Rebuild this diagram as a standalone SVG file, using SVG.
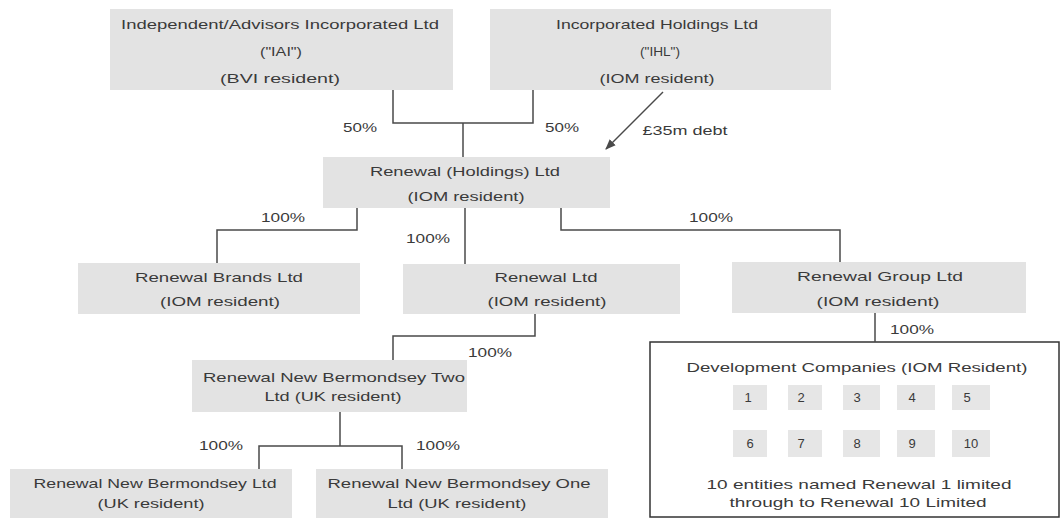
<svg xmlns="http://www.w3.org/2000/svg" width="1062" height="518" viewBox="0 0 1062 518">
<defs>
<style>
.box{fill:#e3e3e3;}
.sq{fill:#e6e6e6;}
text{font-family:"Liberation Sans",Arial,sans-serif;font-size:13px;fill:#3a3a3a;text-anchor:middle;}
.ln{fill:none;stroke:#4a4a4a;stroke-width:1.5;}
</style>
<marker id="ah" viewBox="0 0 10 10" refX="9" refY="5" markerWidth="7" markerHeight="7" orient="auto">
<path d="M0,1 L10,5 L0,9 z" fill="#4a4a4a"/>
</marker>
</defs>
<rect width="1062" height="518" fill="#ffffff"/>

<g id="iai">
<rect class="box" x="110" y="9" width="343" height="81"/>
<text x="280" y="29" textLength="318" lengthAdjust="spacingAndGlyphs">Independent/Advisors Incorporated Ltd</text>
<text x="281" y="56" textLength="42" lengthAdjust="spacingAndGlyphs">(&quot;IAI&quot;)</text>
<text x="280" y="83" textLength="120" lengthAdjust="spacingAndGlyphs">(BVI resident)</text>
</g>

<g id="ihl">
<rect class="box" x="490" y="9" width="341" height="81"/>
<text x="657" y="29" textLength="202" lengthAdjust="spacingAndGlyphs">Incorporated Holdings Ltd</text>
<text x="660" y="56" textLength="40" lengthAdjust="spacingAndGlyphs">(&quot;IHL&quot;)</text>
<text x="657" y="83" textLength="115" lengthAdjust="spacingAndGlyphs">(IOM resident)</text>
</g>

<g id="holdings">
<rect class="box" x="323" y="157" width="287" height="51"/>
<text x="465" y="176" textLength="190" lengthAdjust="spacingAndGlyphs">Renewal (Holdings) Ltd</text>
<text x="466" y="201" textLength="117" lengthAdjust="spacingAndGlyphs">(IOM resident)</text>
</g>

<g id="brands">
<rect class="box" x="78" y="263" width="282" height="51"/>
<text x="219" y="282" textLength="168" lengthAdjust="spacingAndGlyphs">Renewal Brands Ltd</text>
<text x="220" y="306" textLength="120" lengthAdjust="spacingAndGlyphs">(IOM resident)</text>
</g>

<g id="renewal-ltd">
<rect class="box" x="403" y="264" width="277" height="50"/>
<text x="546" y="282" textLength="103" lengthAdjust="spacingAndGlyphs">Renewal Ltd</text>
<text x="547" y="306" textLength="119" lengthAdjust="spacingAndGlyphs">(IOM resident)</text>
</g>

<g id="group">
<rect class="box" x="732" y="262" width="294" height="51"/>
<text x="880" y="281" textLength="166" lengthAdjust="spacingAndGlyphs">Renewal Group Ltd</text>
<text x="878" y="306" textLength="123" lengthAdjust="spacingAndGlyphs">(IOM resident)</text>
</g>

<g id="bermondsey-two">
<rect class="box" x="192" y="360" width="275" height="52"/>
<text x="334" y="382" textLength="262" lengthAdjust="spacingAndGlyphs">Renewal New Bermondsey Two</text>
<text x="333" y="401" textLength="137" lengthAdjust="spacingAndGlyphs">Ltd (UK resident)</text>
</g>

<g id="bermondsey">
<rect class="box" x="10" y="469" width="282" height="49"/>
<text x="155" y="488" textLength="243" lengthAdjust="spacingAndGlyphs">Renewal New Bermondsey Ltd</text>
<text x="151" y="508" textLength="107" lengthAdjust="spacingAndGlyphs">(UK resident)</text>
</g>

<g id="bermondsey-one">
<rect class="box" x="316" y="469" width="292" height="49"/>
<text x="459" y="488" textLength="263" lengthAdjust="spacingAndGlyphs">Renewal New Bermondsey One</text>
<text x="457" y="508" textLength="139" lengthAdjust="spacingAndGlyphs">Ltd (UK resident)</text>
</g>

<g id="development">
<rect x="650" y="342" width="409" height="175" fill="#ffffff" stroke="#333333" stroke-width="1.5"/>
<text x="857" y="372" textLength="341" lengthAdjust="spacingAndGlyphs">Development Companies (IOM Resident)</text>
<rect class="sq" x="733" y="385" width="34" height="25"/>
<rect class="sq" x="788" y="385" width="34" height="25"/>
<rect class="sq" x="843" y="385" width="37" height="25"/>
<rect class="sq" x="897" y="385" width="38" height="25"/>
<rect class="sq" x="952" y="385" width="38" height="25"/>
<rect class="sq" x="733" y="430" width="34" height="27"/>
<rect class="sq" x="788" y="430" width="34" height="27"/>
<rect class="sq" x="843" y="430" width="37" height="27"/>
<rect class="sq" x="897" y="430" width="38" height="27"/>
<rect class="sq" x="952" y="430" width="38" height="27"/>
<text x="748" y="402">1</text>
<text x="801" y="402">2</text>
<text x="857" y="402">3</text>
<text x="912" y="402">4</text>
<text x="967" y="402">5</text>
<text x="750" y="448">6</text>
<text x="801" y="448">7</text>
<text x="857" y="448">8</text>
<text x="912" y="448">9</text>
<text x="971" y="448">10</text>
<text x="859" y="489" textLength="305" lengthAdjust="spacingAndGlyphs">10 entities named Renewal 1 limited</text>
<text x="858" y="507" textLength="257" lengthAdjust="spacingAndGlyphs">through to Renewal 10 Limited</text>
</g>

<g id="connectors">
<polyline class="ln" points="393,90 393,123 533,123 533,90"/>
<line class="ln" x1="463" y1="123" x2="463" y2="157"/>
<line class="ln" x1="663" y1="92" x2="606" y2="149" marker-end="url(#ah)"/>
<polyline class="ln" points="357,208 357,230 217,230 217,263"/>
<line class="ln" x1="465" y1="208" x2="465" y2="264"/>
<polyline class="ln" points="561,208 561,230 840,230 840,262"/>
<line class="ln" x1="875" y1="313" x2="875" y2="342"/>
<polyline class="ln" points="535,314 535,336 393,336 393,360"/>
<line class="ln" x1="340" y1="412" x2="340" y2="446"/>
<polyline class="ln" points="259,469 259,446 402,446 402,469"/>
</g>

<g id="labels">
<text x="360" y="132" textLength="34" lengthAdjust="spacingAndGlyphs">50%</text>
<text x="562" y="132" textLength="34" lengthAdjust="spacingAndGlyphs">50%</text>
<text x="685" y="135" textLength="85" lengthAdjust="spacingAndGlyphs">£35m debt</text>
<text x="283" y="222" textLength="44" lengthAdjust="spacingAndGlyphs">100%</text>
<text x="428" y="243" textLength="44" lengthAdjust="spacingAndGlyphs">100%</text>
<text x="711" y="222" textLength="44" lengthAdjust="spacingAndGlyphs">100%</text>
<text x="912" y="334" textLength="44" lengthAdjust="spacingAndGlyphs">100%</text>
<text x="490" y="357" textLength="44" lengthAdjust="spacingAndGlyphs">100%</text>
<text x="221" y="450" textLength="44" lengthAdjust="spacingAndGlyphs">100%</text>
<text x="438" y="450" textLength="44" lengthAdjust="spacingAndGlyphs">100%</text>
</g>
</svg>
